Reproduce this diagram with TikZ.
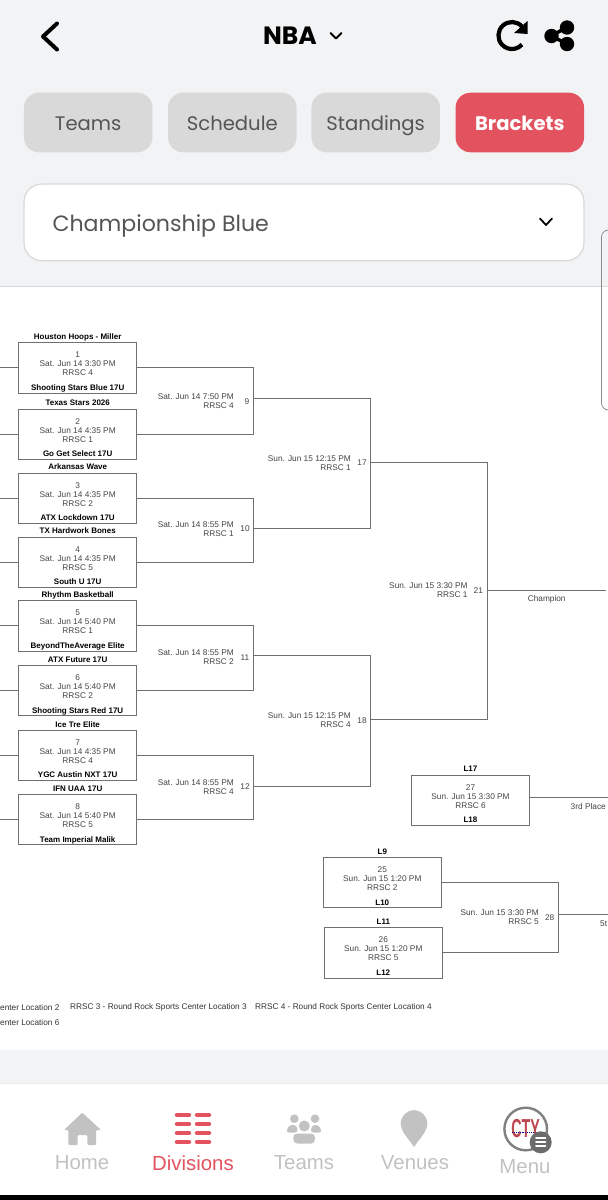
\documentclass[tikz,border=0pt]{standalone}
\usepackage{fontspec}
\setmainfont{Liberation Sans}
\newfontfamily\tabfont{Poppins}
\usetikzlibrary{positioning}
\definecolor{panelgray}{HTML}{F2F3F5}
\definecolor{tabgray}{HTML}{D9D9D9}
\definecolor{tabtext}{HTML}{555555}
\definecolor{appred}{HTML}{E2525F}
\definecolor{navgray}{HTML}{C2C2C2}
\definecolor{wiregray}{HTML}{707070}
\definecolor{infotext}{HTML}{444444}

\begin{document}
\begin{tikzpicture}[x = 1pt, y = -1pt,
		tabbox/.style = {fill = tabgray, rounded corners = 15pt, minimum width = 128.5pt, minimum height = 59.6pt, inner sep = 0pt, text height = 18pt, text depth = 3pt, text = tabtext, font = \tabfont\fontsize{19.6}{22}\selectfont},
		gamebox/.style = {draw = wiregray, line width = 1pt, minimum width = 118pt, minimum height = 50.4pt, inner sep = 0pt},
		info/.style = {inner sep = 0pt, align = center, text = infotext, font = \fontsize{8.3}{9}\selectfont},
		slot/.style = {inner sep = 0pt, align = right, anchor = east, text = infotext, font = \fontsize{8.3}{9}\selectfont},
		gamenum/.style = {inner sep = 0pt, text = infotext, font = \fontsize{8.3}{9}\selectfont},
		team/.style = {inner sep = 0pt, text height = 6.2pt, text depth = 1.6pt, font = \bfseries\fontsize{8}{9}\selectfont},
		wire/.style = {draw = wiregray, line width = 1pt},
		legend/.style = {inner sep = 0pt, anchor = west, text = black!80, font = \fontsize{8.25}{9}\selectfont},
		navlabel/.style = {inner sep = 0pt, text = navgray, font = \fontsize{20.4}{21}\selectfont},
		icon/.style = {line width = 4pt, line cap = round, line join = round}]
	\useasboundingbox (0, 0) rectangle (608, 1200);
	\fill [white] (0, 0) rectangle (608, 1200);

	% top panel
	\fill [panelgray] (0, 0) rectangle (608, 286);
	\draw [black!15, line width = 0.8pt] (0, 286.3) -- (608, 286.3);
	\draw [black, icon] (57, 23.5) -- (43, 36.5) -- (57, 49.5);
	\node [inner sep = 0pt, font = \tabfont\bfseries\fontsize{25}{27}\selectfont] (title) at (290, 36) {NBA};
	\draw [black, line width = 1.8pt, line cap = round, line join = round] (330.5, 33) -- (336, 38.5) -- (341.5, 33);
	% refresh and share
	\draw [black, line width = 4.2pt] (522, 26.5) arc (-42 : -318 : 13.5) ;
	\fill [black] (527.5, 21) -- (527.5, 34) -- (514, 33) -- cycle;
	\draw [black, line width = 3.5pt] (567, 27) -- (551.5, 36) -- (567, 44);
	\fill [black] (567, 27.5) circle (7.2pt) (551.5, 36) circle (7.2pt) (567, 44) circle (7.2pt);

	\node [tabbox] (teams) at (88.2, 122.5) {Teams};
	\node [tabbox] (schedule) at (232.3, 122.5) {Schedule};
	\node [tabbox] (standings) at (375.7, 122.5) {Standings};
	\node [tabbox, fill = appred, text = white, font = \tabfont\bfseries\fontsize{19.6}{22}\selectfont] (brackets) at (519.8, 122.5) {Brackets};

	\node [draw = tabgray, fill = white, line width = 1.2pt, rounded corners = 18pt, minimum width = 560pt, minimum height = 76.7pt, inner sep = 0pt] (division) at (304, 222.4) {};
	\node [inner sep = 0pt, anchor = base west, text = tabtext, font = \tabfont\fontsize{22.1}{24}\selectfont] (divisionname) at (52.3, 231.5) {Championship Blue};
	\draw [black, line width = 1.8pt, line cap = round, line join = round] (540, 218.5) -- (546, 225) -- (552, 218.5);
	\draw [black!45, line width = 0.8pt, rounded corners = 7pt] (608, 230) -- (601.5, 230) -- (601.5, 410) -- (608, 410);

	% first round
	\node [gamebox] (g1) at (77.7, 367.9) {};
	\node [gamebox] (g2) at (77.7, 434.2) {};
	\node [gamebox] (g3) at (77.7, 498.4) {};
	\node [gamebox] (g4) at (77.7, 562.4) {};
	\node [gamebox] (g5) at (77.7, 625.9) {};
	\node [gamebox] (g6) at (77.7, 690.7) {};
	\node [gamebox] (g7) at (77.7, 755.5) {};
	\node [gamebox] (g8) at (77.7, 819.7) {};

	\node [info, below = 9.5pt of g1.north] (i1) {1\\Sat. Jun 14 3:30 PM\\RRSC 4};
	\node [info, below = 9.5pt of g2.north] (i2) {2\\Sat. Jun 14 4:35 PM\\RRSC 1};
	\node [info, below = 9.5pt of g3.north] (i3) {3\\Sat. Jun 14 4:35 PM\\RRSC 2};
	\node [info, below = 9.5pt of g4.north] (i4) {4\\Sat. Jun 14 4:35 PM\\RRSC 5};
	\node [info, below = 9.5pt of g5.north] (i5) {5\\Sat. Jun 14 5:40 PM\\RRSC 1};
	\node [info, below = 9.5pt of g6.north] (i6) {6\\Sat. Jun 14 5:40 PM\\RRSC 2};
	\node [info, below = 9.5pt of g7.north] (i7) {7\\Sat. Jun 14 4:35 PM\\RRSC 4};
	\node [info, below = 9.5pt of g8.north] (i8) {8\\Sat. Jun 14 5:40 PM\\RRSC 5};

	\node [team, above = 1pt of g1] (a1) {Houston Hoops - Miller};
	\node [team, above = 1.5pt of g1.south] (b1) {Shooting Stars Blue 17U};
	\node [team, above = 1pt of g2] (a2) {Texas Stars 2026};
	\node [team, above = 1.5pt of g2.south] (b2) {Go Get Select 17U};
	\node [team, above = 1pt of g3] (a3) {Arkansas Wave};
	\node [team, above = 1.5pt of g3.south] (b3) {ATX Lockdown 17U};
	\node [team, above = 1pt of g4] (a4) {TX Hardwork Bones};
	\node [team, above = 1.5pt of g4.south] (b4) {South U 17U};
	\node [team, above = 1pt of g5] (a5) {Rhythm Basketball};
	\node [team, above = 1.5pt of g5.south] (b5) {BeyondTheAverage Elite};
	\node [team, above = 1pt of g6] (a6) {ATX Future 17U};
	\node [team, above = 1.5pt of g6.south] (b6) {Shooting Stars Red 17U};
	\node [team, above = 1pt of g7] (a7) {Ice Tre Elite};
	\node [team, above = 1.5pt of g7.south] (b7) {YGC Austin NXT 17U};
	\node [team, above = 1pt of g8] (a8) {IFN UAA 17U};
	\node [team, above = 1.5pt of g8.south] (b8) {Team Imperial Malik};

	% bracket joints
	\coordinate (r9) at (253.7, 398);
	\coordinate (r10) at (253.7, 528.7);
	\coordinate (r11) at (253.7, 655.7);
	\coordinate (r12) at (253.7, 786);
	\coordinate (r17) at (370.7, 462);
	\coordinate (r18) at (370.7, 719.7);
	\coordinate (r21) at (487.7, 590);
	\coordinate (r28) at (558.7, 914.3);
	\coordinate (champion) at (605.5, 590);
	\coordinate (third) at (608, 797.3);
	\coordinate (fifth) at (608, 914.3);

	\coordinate (s1) at (0, 367.9);
	\coordinate (s2) at (0, 434.2);
	\coordinate (s3) at (0, 498.4);
	\coordinate (s4) at (0, 562.4);
	\coordinate (s5) at (0, 625.9);
	\coordinate (s6) at (0, 690.7);
	\coordinate (s7) at (0, 755.5);
	\coordinate (s8) at (0, 819.7);
	\draw [wire] (s1) -- (g1);
	\draw [wire] (s2) -- (g2);
	\draw [wire] (s3) -- (g3);
	\draw [wire] (s4) -- (g4);
	\draw [wire] (s5) -- (g5);
	\draw [wire] (s6) -- (g6);
	\draw [wire] (s7) -- (g7);
	\draw [wire] (s8) -- (g8);

	\draw [wire] (g1.east) -| (r9);
	\draw [wire] (g2.east) -| (r9);
	\draw [wire] (g3.east) -| (r10);
	\draw [wire] (g4.east) -| (r10);
	\draw [wire] (g5.east) -| (r11);
	\draw [wire] (g6.east) -| (r11);
	\draw [wire] (g7.east) -| (r12);
	\draw [wire] (g8.east) -| (r12);
	\draw [wire] (r9) -| (r17);
	\draw [wire] (r10) -| (r17);
	\draw [wire] (r11) -| (r18);
	\draw [wire] (r12) -| (r18);
	\draw [wire] (r17) -| (r21);
	\draw [wire] (r18) -| (r21);
	\draw [wire] (r21) -- (champion);

	\node [slot] (t9) at (234, 401.5) {Sat. Jun 14 7:50 PM\\RRSC 4};
	\node [gamenum] (n9) at (247, 401.3) {9};
	\node [slot] (t10) at (234, 529) {Sat. Jun 14 8:55 PM\\RRSC 1};
	\node [gamenum] (n10) at (245, 529) {10};
	\node [slot] (t11) at (234, 657.3) {Sat. Jun 14 8:55 PM\\RRSC 2};
	\node [gamenum] (n11) at (245, 657.3) {11};
	\node [slot] (t12) at (234, 787) {Sat. Jun 14 8:55 PM\\RRSC 4};
	\node [gamenum] (n12) at (245, 787) {12};
	\node [slot] (t17) at (351, 462.7) {Sun. Jun 15 12:15 PM\\RRSC 1};
	\node [gamenum] (n17) at (362, 463) {17};
	\node [slot] (t18) at (351, 720.2) {Sun. Jun 15 12:15 PM\\RRSC 4};
	\node [gamenum] (n18) at (362, 720.7) {18};
	\node [slot] (t21) at (467.7, 590.2) {Sun. Jun 15 3:30 PM\\RRSC 1};
	\node [gamenum] (n21) at (478.3, 590.3) {21};
	\node [gamenum] (championname) at (546.7, 599.3) {Champion};

	% consolation games
	\node [gamebox] (g27) at (470.5, 800.2) {};
	\node [info, below = 9.5pt of g27.north] (i27) {27\\Sun. Jun 15 3:30 PM\\RRSC 6};
	\node [team, above = 1pt of g27] (a27) {L17};
	\node [team, above = 1.5pt of g27.south] (b27) {L18};
	\draw [wire] (g27.east |- third) -- (third);
	\node [gamenum, anchor = east] (thirdname) at (606, 807) {3rd Place};

	\node [gamebox] (g25) at (382.3, 882.7) {};
	\node [info, below = 9.5pt of g25.north] (i25) {25\\Sun. Jun 15 1:20 PM\\RRSC 2};
	\node [team, above = 1pt of g25] (a25) {L9};
	\node [team, above = 1.5pt of g25.south] (b25) {L10};
	\node [gamebox] (g26) at (383.3, 952.9) {};
	\node [info, below = 9.5pt of g26.north] (i26) {26\\Sun. Jun 15 1:20 PM\\RRSC 5};
	\node [team, above = 1pt of g26] (a26) {L11};
	\node [team, above = 1.5pt of g26.south] (b26) {L12};
	\draw [wire] (g25.east) -| (r28);
	\draw [wire] (g26.east) -| (r28);
	\draw [wire] (r28) -- (fifth);
	\node [slot] (t28) at (539, 917) {Sun. Jun 15 3:30 PM\\RRSC 5};
	\node [gamenum] (n28) at (549.7, 917.3) {28};
	\node [gamenum, anchor = west] (fifthname) at (600, 924) {5t};

	% location legend
	\node [legend] (l2) at (0, 1007.3) {enter Location 2};
	\node [legend] (l3) at (70, 1007.3) {RRSC 3 - Round Rock Sports Center Location 3};
	\node [legend] (l4) at (255, 1007.3) {RRSC 4 - Round Rock Sports Center Location 4};
	\node [legend] (l6) at (0, 1022.7) {enter Location 6};

	% bottom navigation
	\fill [panelgray] (0, 1050) rectangle (608, 1083);
	\draw [black!8, line width = 0.8pt] (0, 1083.3) -- (608, 1083.3);
	\fill [black] (0, 1195) rectangle (608, 1200);

	\fill [navgray, rounded corners = 1pt] (82.3, 1112.7) -- (101, 1130) -- (96, 1130) -- (96, 1145) -- (87.3, 1145) -- (87.3, 1135) -- (77.7, 1135) -- (77.7, 1145) -- (68.3, 1145) -- (68.3, 1130) -- (64, 1130) -- cycle;
	\node [navlabel] (home) at (82, 1163) {Home};

	\draw [appred, line width = 4.4pt, line cap = round] (177, 1115) -- (189, 1115) (197, 1115) -- (209, 1115);
	\draw [appred, line width = 4.4pt, line cap = round] (177, 1124) -- (189, 1124) (197, 1124) -- (209, 1124);
	\draw [appred, line width = 4.4pt, line cap = round] (177, 1133) -- (189, 1133) (197, 1133) -- (209, 1133);
	\draw [appred, line width = 4.4pt, line cap = round] (177, 1142) -- (189, 1142) (197, 1142) -- (209, 1142);
	\node [navlabel, text = appred] (divisions) at (193, 1163) {Divisions};

	\fill [navgray] (294.3, 1118.7) circle (4.3pt) (315, 1118.7) circle (4.3pt) (304.3, 1126) circle (5.5pt);
	\fill [navgray, rounded corners = 3pt] (286, 1132.5) -- (289, 1125) -- (296.5, 1125) -- (298, 1132.5) -- cycle;
	\fill [navgray, rounded corners = 3pt] (310.5, 1132.5) -- (312, 1125) -- (319, 1125) -- (322, 1132.5) -- cycle;
	\fill [navgray, rounded corners = 4pt] (293.3, 1143.5) -- (293.3, 1133.5) -- (315, 1133.5) -- (315, 1143.5) -- cycle;
	\node [navlabel] (teamsnav) at (304, 1163) {Teams};

	\fill [navgray] (414, 1147) .. controls (409, 1139) and (400.7, 1132) .. (400.7, 1123.5) arc (180 : 360 : 13.3) .. controls (427.3, 1132) and (419, 1139) .. cycle;
	\node [navlabel] (venues) at (415, 1163) {Venues};

	\draw [black!50, line width = 2.4pt] (525.7, 1129) circle (21.3pt);
	\node [inner sep = 0pt, text = appred!85!black, font = \bfseries\fontsize{26}{26}\selectfont, xscale = 0.55] (cty) at (525.7, 1128.5) {CTY};
	\draw [blue!50!black, line width = 0.9pt, densely dotted] (512, 1132.7) -- (533, 1132.7);
	\node [circle, fill = black!58, minimum size = 22pt, inner sep = 0pt] (menubutton) at (540.7, 1142.3) {};
	\draw [white, line width = 1.7pt, line cap = round] (536, 1138.3) -- (545.5, 1138.3) (536, 1142.3) -- (545.5, 1142.3) (536, 1146.3) -- (545.5, 1146.3);
	\node [navlabel] (menu) at (525, 1166.7) {Menu};
\end{tikzpicture}
\end{document}
